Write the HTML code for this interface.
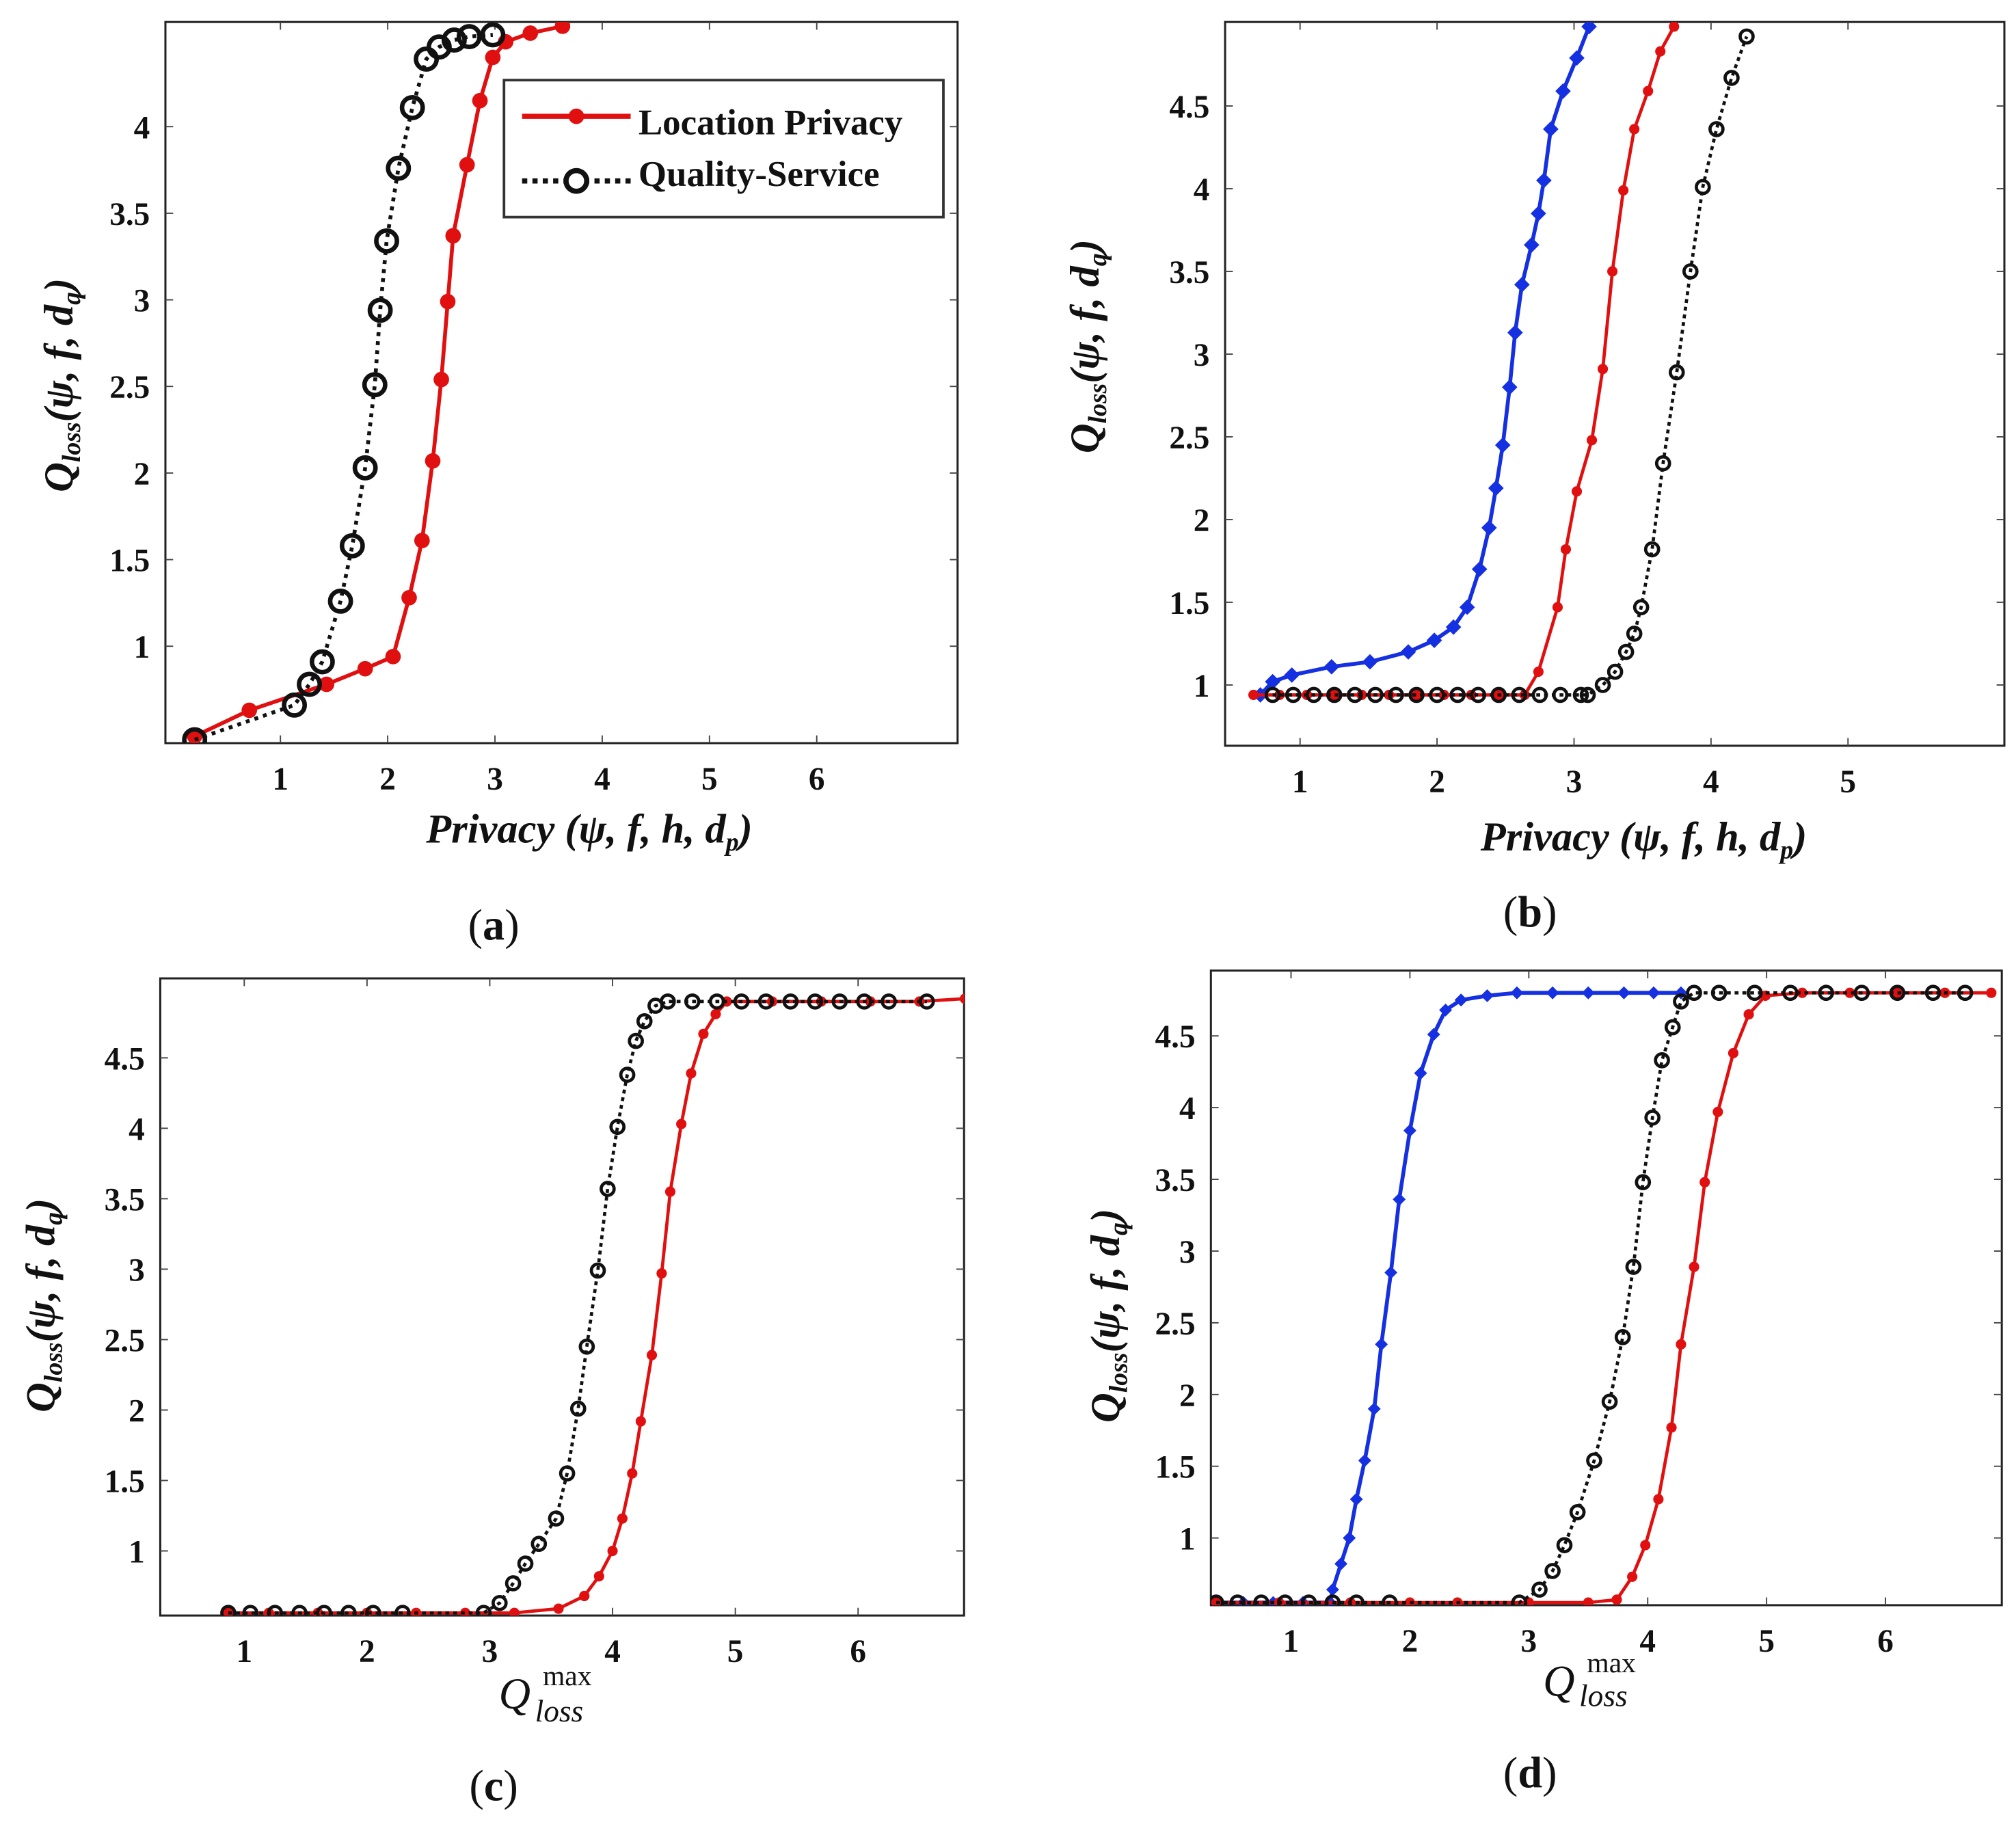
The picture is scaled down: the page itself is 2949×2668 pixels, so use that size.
<!DOCTYPE html>
<html><head><meta charset="utf-8"><style>
html,body{margin:0;padding:0;background:#fff;}
svg{display:block;}
text{font-family:"Liberation Serif",serif;}
</style></head><body>
<svg id="fig" width="2949" height="2668" viewBox="0 0 1560 1411.3" preserveAspectRatio="none" xmlns="http://www.w3.org/2000/svg"></svg>
<script>
// ---- Panel (a) data ----
const aRedX=[0.2,0.71,1.43,1.79,2.05,2.2,2.32,2.42,2.5,2.56,2.61,2.74,2.86,2.98,3.1,3.33,3.63];
const aRedY=[0.48,0.63,0.78,0.87,0.94,1.28,1.61,2.07,2.54,2.99,3.37,3.78,4.15,4.4,4.49,4.54,4.58];
const aBlkX=[0.2,1.13,1.27,1.39,1.56,1.67,1.79,1.88,1.93,1.99,2.1,2.23,2.36,2.48,2.62,2.76,2.98];
const aBlkY=[0.46,0.66,0.78,0.91,1.26,1.58,2.03,2.51,2.94,3.34,3.76,4.11,4.39,4.46,4.5,4.52,4.53];
// ---- Panel (b) data ----
const bBluX=[0.71,0.8,0.94,1.23,1.51,1.79,1.98,2.12,2.22,2.31,2.38,2.43,2.48,2.53,2.57,2.62,2.69,2.74,2.78,2.83,2.92,3.02,3.11];
const bBluY=[0.94,1.02,1.06,1.11,1.14,1.2,1.27,1.35,1.47,1.7,1.95,2.19,2.45,2.8,3.13,3.42,3.66,3.85,4.05,4.36,4.59,4.79,4.98];
const bRedX=[0.66,0.85,1.05,1.25,1.45,1.65,1.85,2.05,2.25,2.45,2.64,2.74,2.88,2.94,3.02,3.13,3.21,3.28,3.36,3.44,3.54,3.63,3.73];
const bRedY=[0.94,0.94,0.94,0.94,0.94,0.94,0.94,0.94,0.94,0.94,0.94,1.08,1.47,1.82,2.17,2.48,2.91,3.5,3.99,4.36,4.59,4.83,4.98];
const bBlkX=[0.8,0.95,1.1,1.25,1.4,1.55,1.7,1.85,2.0,2.15,2.3,2.45,2.6,2.75,2.9,3.05,3.1,3.21,3.3,3.38,3.44,3.49,3.57,3.65,3.75,3.85,3.94,4.04,4.15,4.26];
const bBlkY=[0.94,0.94,0.94,0.94,0.94,0.94,0.94,0.94,0.94,0.94,0.94,0.94,0.94,0.94,0.94,0.94,0.94,1.0,1.08,1.2,1.31,1.47,1.82,2.34,2.89,3.5,4.01,4.36,4.67,4.92];
// ---- Panel (c) data ----
const cBlkX=[0.87,1.05,1.25,1.45,1.65,1.85,2.05,2.29,2.95,3.08,3.19,3.29,3.4,3.54,3.63,3.72,3.79,3.88,3.96,4.04,4.12,4.19,4.26,4.35,4.45,4.65,4.85,5.05,5.25,5.45,5.65,5.85,6.05,6.25,6.56];
const cBlkY=[0.56,0.56,0.56,0.56,0.56,0.56,0.56,0.56,0.56,0.63,0.77,0.91,1.05,1.23,1.55,2.01,2.45,2.99,3.57,4.01,4.38,4.62,4.76,4.87,4.9,4.9,4.9,4.9,4.9,4.9,4.9,4.9,4.9,4.9,4.9];
const cRedX=[0.87,1.2,1.6,2.0,2.4,2.8,3.2,3.56,3.77,3.89,4.0,4.08,4.16,4.23,4.32,4.4,4.47,4.56,4.64,4.74,4.84,4.93,5.3,5.7,6.1,6.5,6.87];
const cRedY=[0.56,0.56,0.56,0.56,0.56,0.56,0.56,0.59,0.68,0.82,1.0,1.23,1.55,1.92,2.39,2.97,3.55,4.03,4.39,4.67,4.81,4.9,4.9,4.9,4.9,4.9,4.92];
// ---- Panel (d) data ----
const dBluX=[0.37,0.6,0.85,1.1,1.33,1.35,1.42,1.49,1.55,1.62,1.7,1.76,1.84,1.91,2.0,2.09,2.2,2.3,2.43,2.65,2.9,3.2,3.5,3.8,4.05,4.28];
const dBluY=[0.55,0.55,0.55,0.55,0.55,0.64,0.82,1.0,1.27,1.54,1.9,2.35,2.85,3.36,3.84,4.24,4.51,4.68,4.75,4.78,4.8,4.8,4.8,4.8,4.8,4.8];
const dBlkX=[0.37,0.55,0.75,0.95,1.15,1.35,1.55,1.83,2.92,3.09,3.2,3.3,3.41,3.55,3.68,3.79,3.88,3.96,4.04,4.12,4.21,4.28,4.39,4.6,4.9,5.2,5.5,5.8,6.1,6.4,6.67];
const dBlkY=[0.55,0.55,0.55,0.55,0.55,0.55,0.55,0.55,0.55,0.64,0.77,0.95,1.18,1.54,1.95,2.4,2.89,3.48,3.93,4.33,4.56,4.74,4.8,4.8,4.8,4.8,4.8,4.8,4.8,4.8,4.8];
const dRedX=[0.37,0.9,1.5,2.0,2.4,3.0,3.5,3.74,3.87,3.98,4.09,4.2,4.28,4.39,4.48,4.59,4.72,4.85,4.99,5.3,5.7,6.1,6.5,6.89];
const dRedY=[0.55,0.55,0.55,0.55,0.55,0.55,0.55,0.57,0.73,0.95,1.27,1.77,2.35,2.89,3.48,3.97,4.38,4.65,4.78,4.8,4.8,4.8,4.8,4.8];

const xTicksA=[1,2,3,4,5,6], yTicksA=[1,1.5,2,2.5,3,3.5,4];
const xTicksB=[1,2,3,4,5], yTicksB=[1,1.5,2,2.5,3,3.5,4,4.5];
const xTicksC=[1,2,3,4,5,6], yTicksC=[1,1.5,2,2.5,3,3.5,4,4.5];
const xTicksD=[1,2,3,4,5,6], yTicksD=[1,1.5,2,2.5,3,3.5,4,4.5];

const NS='http://www.w3.org/2000/svg';
const svg=document.getElementById('fig');
function mk(tag,attrs,parent){const e=document.createElementNS(NS,tag);for(const k in attrs)e.setAttribute(k,attrs[k]);(parent||svg).appendChild(e);return e;}

function panel(id,box,sx,sy,xt,yt,series){
  const g=mk('g',{});
  
  
  const X=v=>sx.p0+(v-sx.v0)*sx.u, Y=v=>sy.p0-(v-sy.v0)*sy.u;
  const fr=mk('rect',{x:box[0],y:box[1],width:box[2]-box[0],height:box[3]-box[1],fill:'#fff',stroke:'#222','stroke-width':1.6},g);
  
  
  const cp=mk('clipPath',{id:'cp'+id},g);
  mk('rect',{x:box[0],y:box[1],width:box[2]-box[0],height:box[3]-box[1]},cp);
  xt.forEach(v=>{
    const x=X(v);
    mk('line',{x1:x,x2:x,y1:box[3],y2:box[3]-6,stroke:'#444','stroke-width':1},g);
    mk('line',{x1:x,x2:x,y1:box[1],y2:box[1]+6,stroke:'#444','stroke-width':1},g);
    const t=mk('text',{x:x,y:box[3]+36,'text-anchor':'middle','font-size':25,'font-weight':'bold',fill:'#111'},g);
    t.textContent=v;
    
    
  });
  yt.forEach(v=>{
    const y=Y(v);
    mk('line',{x1:box[0],x2:box[0]+6,y1:y,y2:y,stroke:'#444','stroke-width':1},g);
    mk('line',{x1:box[2],x2:box[2]-6,y1:y,y2:y,stroke:'#444','stroke-width':1},g);
    const t=mk('text',{x:box[0]-12,y:y+9,'text-anchor':'end','font-size':25,'font-weight':'bold',fill:'#111'},g);
    t.textContent=v;
    
    
  });
  const pg=mk('g',{'clip-path':'url(#cp'+id+')'},g);
  series.forEach(s=>{
    const pts=s.x.map((v,i)=>X(v)+','+Y(s.y[i])).join(' ');
    const pl=mk('polyline',{points:pts,fill:'none',stroke:s.c,'stroke-width':s.w||3,'stroke-dasharray':s.dash||'none','stroke-linejoin':'round'},pg);
    
    
    s.x.forEach((v,i)=>{
      const cx=X(v), cy=Y(s.y[i]);
      let m;
      if(s.m==='open') m=mk('circle',{cx:cx,cy:cy,r:s.r,fill:'none',stroke:s.c,'stroke-width':s.sw||3},pg);
      else if(s.m==='diamond') m=mk('polygon',{points:`${cx},${cy-s.r} ${cx+s.r},${cy} ${cx},${cy+s.r} ${cx-s.r},${cy}`,fill:s.c},pg);
      else m=mk('circle',{cx:cx,cy:cy,r:s.r,fill:s.c},pg);
      
      
    });
  });
  return g;
}

panel('a',[128,17,741,575],{p0:217,v0:1,u:83},{p0:500,v0:1,u:134},xTicksA,yTicksA,[
  {name:'location-privacy',x:aRedX,y:aRedY,c:'#e01010',m:'dot',r:6,w:3},
  {name:'quality-service',x:aBlkX,y:aBlkY,c:'#111',m:'open',r:8,sw:3.5,dash:'3 4',w:3}
]);
panel('b',[948,17,1551,577],{p0:1006,v0:1,u:106},{p0:530,v0:1,u:128},xTicksB,yTicksB,[
  {name:'blue-series',x:bBluX,y:bBluY,c:'#1530e0',m:'diamond',r:6,w:3},
  {name:'red-series',x:bRedX,y:bRedY,c:'#e01010',m:'dot',r:4,w:2.5},
  {name:'black-series',x:bBlkX,y:bBlkY,c:'#111',m:'open',r:5,sw:2.5,dash:'3 3',w:2.5}
]);
panel('c',[124,757,746,1250],{p0:189,v0:1,u:95},{p0:1200,v0:1,u:109},xTicksC,yTicksC,[
  {name:'red-series',x:cRedX,y:cRedY,c:'#e01010',m:'dot',r:4,w:2.5},
  {name:'black-series',x:cBlkX,y:cBlkY,c:'#111',m:'open',r:5,sw:2.5,dash:'3 3',w:2.5}
]);
panel('d',[937,751,1549,1242],{p0:999,v0:1,u:92},{p0:1190,v0:1,u:111},xTicksD,yTicksD,[
  {name:'blue-series',x:dBluX,y:dBluY,c:'#1530e0',m:'diamond',r:5,w:3},
  {name:'red-series',x:dRedX,y:dRedY,c:'#e01010',m:'dot',r:4,w:2.5},
  {name:'black-series',x:dBlkX,y:dBlkY,c:'#111',m:'open',r:5,sw:2.5,dash:'3 3',w:2.5}
]);
</script>
<svg style="position:absolute;left:0;top:0" width="2949" height="2668" viewBox="0 0 1560 1411.3" preserveAspectRatio="none" xmlns="http://www.w3.org/2000/svg">
 <g>
  <rect x="390" y="62" width="340" height="106" fill="#fff" stroke="#333" stroke-width="2"/>
  <line x1="404" y1="90" x2="488" y2="90" stroke="#e01010" stroke-width="4"/>
  <circle cx="446" cy="90" r="6" fill="#e01010"/>
  <text x="494" y="104" font-size="28" font-weight="bold" fill="#111">Location Privacy</text>
  <line x1="404" y1="140" x2="488" y2="140" stroke="#111" stroke-width="4" stroke-dasharray="4 4"/>
  <circle cx="446" cy="140" r="8" fill="#fff" stroke="#111" stroke-width="4"/>
  <text x="494" y="144" font-size="28" font-weight="bold" fill="#111">Quality-Service</text>
 </g>
 <text transform="translate(56,298) rotate(-90)" text-anchor="middle" font-size="32" font-weight="bold" font-style="italic" fill="#111">Q<tspan font-size="20" dy="6">loss</tspan><tspan dy="-6">(ψ, f, d</tspan><tspan font-size="20" dy="6">q</tspan><tspan dy="-6">)</tspan></text>
 <text transform="translate(850,268) rotate(-90)" text-anchor="middle" font-size="32" font-weight="bold" font-style="italic" fill="#111">Q<tspan font-size="20" dy="6">loss</tspan><tspan dy="-6">(ψ, f, d</tspan><tspan font-size="20" dy="6">q</tspan><tspan dy="-6">)</tspan></text>
 <text transform="translate(42,1010) rotate(-90)" text-anchor="middle" font-size="32" font-weight="bold" font-style="italic" fill="#111">Q<tspan font-size="20" dy="6">loss</tspan><tspan dy="-6">(ψ, f, d</tspan><tspan font-size="20" dy="6">q</tspan><tspan dy="-6">)</tspan></text>
 <text transform="translate(866,1018) rotate(-90)" text-anchor="middle" font-size="32" font-weight="bold" font-style="italic" fill="#111">Q<tspan font-size="20" dy="6">loss</tspan><tspan dy="-6">(ψ, f, d</tspan><tspan font-size="20" dy="6">q</tspan><tspan dy="-6">)</tspan></text>
 <text x="456" y="652" text-anchor="middle" font-size="32" font-weight="bold" font-style="italic" fill="#111">Privacy (ψ, f, h, d<tspan font-size="20" dy="6">p</tspan><tspan dy="-6">)</tspan></text>
 <text x="1272" y="658" text-anchor="middle" font-size="32" font-weight="bold" font-style="italic" fill="#111">Privacy (ψ, f, h, d<tspan font-size="20" dy="6">p</tspan><tspan dy="-6">)</tspan></text>
 <g>
  <text x="386" y="1322" font-size="34" font-style="italic" fill="#111">Q</text>
  <text x="420" y="1304" font-size="22" fill="#111">max</text>
  <text x="414" y="1332" font-size="24" font-style="italic" fill="#111">loss</text>
 </g>
 <g>
  <text x="1194" y="1312" font-size="34" font-style="italic" fill="#111">Q</text>
  <text x="1228" y="1294" font-size="22" fill="#111">max</text>
  <text x="1222" y="1320" font-size="24" font-style="italic" fill="#111">loss</text>
 </g>
 <text x="382" y="727" text-anchor="middle" font-size="34" fill="#111">(<tspan font-weight="bold">a</tspan>)</text>
 <text x="1184" y="717" text-anchor="middle" font-size="34" fill="#111">(<tspan font-weight="bold">b</tspan>)</text>
 <text x="382" y="1393" text-anchor="middle" font-size="34" fill="#111">(<tspan font-weight="bold">c</tspan>)</text>
 <text x="1184" y="1383" text-anchor="middle" font-size="34" fill="#111">(<tspan font-weight="bold">d</tspan>)</text>
</svg>
</body></html>
